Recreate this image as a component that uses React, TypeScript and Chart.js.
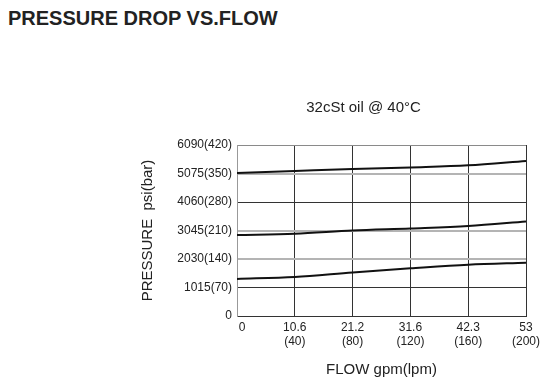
import React, { useEffect, useRef } from "react";
import { Chart, registerables } from "chart.js";

Chart.register(...registerables);

const flowLpm = [0, 40, 80, 120, 160, 200];
const gpmLabels = ["0", "10.6", "21.2", "31.6", "42.3", "53"];
const lpmLabels = ["", "(40)", "(80)", "(120)", "(160)", "(200)"];

const barTicks = [0, 70, 140, 210, 280, 350, 420];
const psiLabels = ["0", "1015", "2030", "3045", "4060", "5075", "6090"];

const highCurve = [351, 356, 361, 365, 370, 381];
const midCurve = [199, 202, 210, 215, 221, 232];
const lowCurve = [91, 96, 107, 117, 126, 131];

const mainTitle = "PRESSURE DROP VS.FLOW";
const subTitle = "32cSt oil @ 40°C";
const xTitle = "FLOW gpm(lpm)";
const yTitle = "PRESSURE  psi(bar)";

const FONT = "'Liberation Sans', Arial, Helvetica, sans-serif";
const TEXT = "#222";

export default function App() {
  const ref = useRef<HTMLCanvasElement | null>(null);

  useEffect(() => {
    const canvas = ref.current;
    if (!canvas) return;
    const mk = (vals: number[]) => vals.map((v, i) => ({ x: flowLpm[i], y: v }));
    const ds = (vals: number[]) => ({
      data: mk(vals),
      borderColor: "#111",
      borderWidth: 2,
      pointRadius: 0,
      tension: 0.4,
      cubicInterpolationMode: "monotone" as const,
      fill: false,
    });

    const subtitlePlugin = {
      id: "subtitleText",
      afterDraw(chart: any) {
        const { ctx, chartArea } = chart;
        ctx.save();
        ctx.font = `15px ${FONT}`;
        ctx.fillStyle = TEXT;
        ctx.textAlign = "center";
        ctx.textBaseline = "middle";
        ctx.fillText(subTitle, (chartArea.left + chartArea.right) / 2 - 18, chartArea.top - 37);
        ctx.restore();
      },
    };

    const chart = new Chart(canvas, {
      type: "line",
      data: {
        datasets: [ds(highCurve), ds(midCurve), ds(lowCurve)],
      },
      plugins: [subtitlePlugin],
      options: {
        responsive: false,
        animation: false,
        devicePixelRatio: 1,
        layout: { padding: { top: 145, right: 15, bottom: 13, left: 139 } },
        plugins: {
          legend: { display: false },
          tooltip: { enabled: false },
          title: { display: false },
        },
        scales: {
          x: {
            type: "linear",
            min: 0,
            max: 200,
            afterBuildTicks: (axis: any) => {
              axis.ticks = flowLpm.map((v) => ({ value: v }));
            },
            afterFit: (axis: any) => {
              axis.height = 63;
              axis.paddingRight = 0;
              axis.paddingLeft = 0;
            },
            ticks: {
              color: TEXT,
              font: { family: FONT, size: 12 },
              padding: 4,
              maxRotation: 0,
              autoSkip: false,
              callback: (v: any) => {
                const i = flowLpm.indexOf(Number(v));
                if (i < 0) return "";
                if (i === 0) return "   " + gpmLabels[0];
                return [gpmLabels[i], lpmLabels[i]];
              },
            },
            grid: {
              color: "#333",
              lineWidth: 1,
              drawTicks: false,
            },
            border: { color: "#333", width: 1 },
            title: {
              display: true,
              text: xTitle,
              color: TEXT,
              font: { family: FONT, size: 15 },
              padding: 0,
            },
          },
          y: {
            type: "linear",
            min: 0,
            max: 420,
            afterBuildTicks: (axis: any) => {
              axis.ticks = barTicks.map((v) => ({ value: v }));
            },
            afterFit: (axis: any) => {
              axis.width = 98;
              axis.paddingTop = 0;
              axis.paddingBottom = 0;
            },
            ticks: {
              color: TEXT,
              font: { family: FONT, size: 12 },
              padding: 5,
              autoSkip: false,
              callback: (v: any) => {
                const i = barTicks.indexOf(Number(v));
                if (i < 0) return "";
                if (i === 0) return psiLabels[0];
                return `${psiLabels[i]}(${barTicks[i]})`;
              },
            },
            grid: {
              drawTicks: false,
              color: (c: any) => {
                const v = c.tick ? c.tick.value : 0;
                if (v === 140 || v === 210 || v === 350) return "#b4b4b4";
                if (v === 420) return "#8a8a8a";
                return "#333";
              },
              lineWidth: (c: any) => {
                const v = c.tick ? c.tick.value : 0;
                if (v === 140 || v === 210 || v === 350) return 2;
                return 1;
              },
            },
            border: { color: "#999", width: 1 },
            title: {
              display: true,
              text: yTitle,
              color: TEXT,
              font: { family: FONT, size: 15 },
              padding: 0,
            },
          },
        },
      },
    });
    return () => chart.destroy();
  }, []);

  return (
    <div style={{ position: "absolute", left: 0, top: 0, width: 541, height: 392, background: "#fff" }}>
      <div
        style={{
          position: "absolute",
          left: 8,
          top: 7,
          fontFamily: FONT,
          fontWeight: "bold",
          fontSize: 20,
          color: TEXT,
          whiteSpace: "nowrap",
          lineHeight: "22px",
        }}
      >
        {mainTitle}
      </div>
      <canvas ref={ref} width={541} height={392} style={{ position: "absolute", left: 0, top: 0 }} />
    </div>
  );
}
